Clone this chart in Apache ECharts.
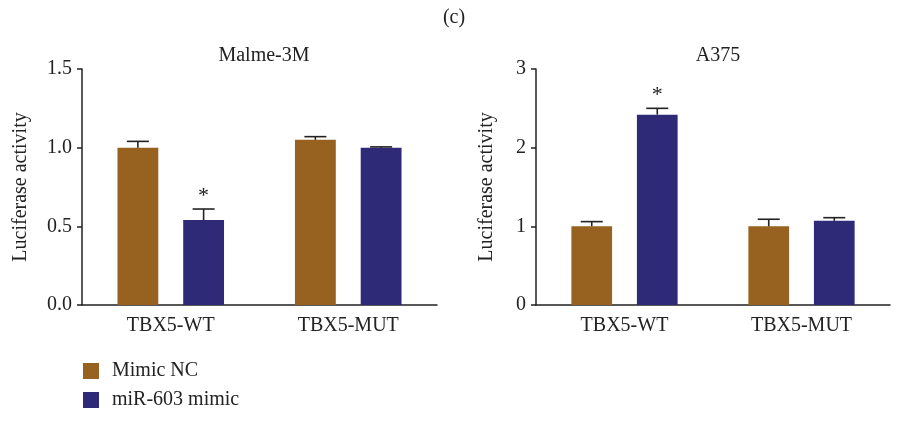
<!DOCTYPE html>
<html><head><meta charset="utf-8">
<script src="https://cdn.jsdelivr.net/npm/echarts@6/dist/echarts.min.js"></script>
<style>html,body{margin:0;padding:0;background:#fff}#c{width:897px;height:428px}</style>
</head><body><div id="c"></div>
<script>
const categories = ['TBX5-WT', 'TBX5-MUT'];
const seriesNames = ['Mimic NC', 'miR-603 mimic'];
const malmeNC = [1.0, 1.05];
const malmeNCErr = [0.04, 0.02];
const malmeMiR = [0.54, 1.0];
const malmeMiRErr = [0.07, 0.005];
const malmeSig = [false, true, false, false]; // NC-WT, miR-WT, NC-MUT, miR-MUT
const a375NC = [1.0, 1.0];
const a375NCErr = [0.06, 0.09];
const a375MiR = [2.42, 1.07];
const a375MiRErr = [0.08, 0.04];
const a375Sig = [false, true, false, false];
const malmeTicks = [0, 1.5, 0.5];
const a375Ticks = [0, 3, 1];

const FONT = '"Liberation Serif", "DejaVu Serif", serif';
const FS = 20;
const C1 = '#97621F', C2 = '#2E2A77';
const BW = 0.23, GAP = 0.61;

function errData(nc, ncErr, mi, miErr, sig) {
  const d = [];
  for (let i = 0; i < nc.length; i++) {
    d.push([i, nc[i], ncErr[i], 0, sig[i * 2] ? 1 : 0]);
    d.push([i, mi[i], miErr[i], 1, sig[i * 2 + 1] ? 1 : 0]);
  }
  return d;
}
function renderErr(params, api) {
  const band = api.size([1, 0])[0];
  const bw = band * BW, gap = bw * GAP;
  const off = (bw + gap) / 2 * (api.value(3) === 0 ? -1 : 1);
  const base = api.coord([api.value(0), api.value(1)]);
  const top = api.coord([api.value(0), api.value(1) + api.value(2)]);
  const x = base[0] + off;
  const cap = 11;
  const children = [
    {type: 'line', shape: {x1: x, y1: base[1], x2: x, y2: top[1]}, style: {stroke: '#222', lineWidth: 1.6}},
    {type: 'line', shape: {x1: x - cap, y1: top[1], x2: x + cap, y2: top[1]}, style: {stroke: '#222', lineWidth: 1.6}}
  ];
  if (api.value(4)) {
    children.push({type: 'text', x: x, y: top[1] - 2, style: {text: '*', fontFamily: FONT, fontSize: 22, fill: '#222', align: 'center', verticalAlign: 'bottom'}});
  }
  return {type: 'group', children: children};
}
function yAxis(idx, t, fmt, gapName) {
  return {
    type: 'value', gridIndex: idx, min: t[0], max: t[1], interval: t[2],
    name: 'Luciferase activity', nameLocation: 'middle', nameGap: gapName,
    nameTextStyle: {fontFamily: FONT, fontSize: FS, color: '#222'},
    axisLine: {show: true, lineStyle: {color: '#222', width: 1.5}},
    axisTick: {show: true, length: 5, lineStyle: {color: '#222', width: 1.5}},
    axisLabel: {fontFamily: FONT, fontSize: FS, color: '#222', margin: 10, formatter: fmt},
    splitLine: {show: false}
  };
}
function xAxis(idx) {
  return {
    type: 'category', gridIndex: idx, data: categories,
    axisLine: {lineStyle: {color: '#222', width: 1.5}},
    axisTick: {alignWithLabel: true, length: 5, lineStyle: {color: '#222', width: 1.5}},
    axisLabel: {fontFamily: FONT, fontSize: FS, color: '#222', margin: 11}
  };
}
const option = {
  animation: false,
  backgroundColor: '#fff',
  title: [
    {text: '(c)', left: 449, top: 3, textAlign: 'center', textStyle: {fontFamily: FONT, fontSize: FS, fontWeight: 'normal', color: '#222'}},
    {text: 'Malme-3M', left: 259, top: 41, textAlign: 'center', textStyle: {fontFamily: FONT, fontSize: FS, fontWeight: 'normal', color: '#222'}},
    {text: 'A375', left: 713, top: 41, textAlign: 'center', textStyle: {fontFamily: FONT, fontSize: FS, fontWeight: 'normal', color: '#222'}}
  ],
  legend: {
    orient: 'vertical', left: 83, top: 361, padding: 0, itemWidth: 16, itemHeight: 16, itemGap: 9,
    icon: 'rect', data: seriesNames,
    textStyle: {fontFamily: FONT, fontSize: FS, color: '#222', padding: [0, 0, 0, 8]}
  },
  grid: [
    {left: 82, top: 69, width: 355, height: 236},
    {left: 536, top: 69, width: 354, height: 236}
  ],
  xAxis: [xAxis(0), xAxis(1)],
  yAxis: [yAxis(0, malmeTicks, v => v.toFixed(1), 51), yAxis(1, a375Ticks, v => String(v), 39)],
  series: [
    {name: seriesNames[0], type: 'bar', xAxisIndex: 0, yAxisIndex: 0, data: malmeNC, barWidth: (BW * 100) + '%', barGap: (GAP * 100) + '%', itemStyle: {color: C1}},
    {name: seriesNames[1], type: 'bar', xAxisIndex: 0, yAxisIndex: 0, data: malmeMiR, barWidth: (BW * 100) + '%', barGap: (GAP * 100) + '%', itemStyle: {color: C2}},
    {name: seriesNames[0], type: 'bar', xAxisIndex: 1, yAxisIndex: 1, data: a375NC, barWidth: (BW * 100) + '%', barGap: (GAP * 100) + '%', itemStyle: {color: C1}},
    {name: seriesNames[1], type: 'bar', xAxisIndex: 1, yAxisIndex: 1, data: a375MiR, barWidth: (BW * 100) + '%', barGap: (GAP * 100) + '%', itemStyle: {color: C2}},
    {type: 'custom', xAxisIndex: 0, yAxisIndex: 0, renderItem: renderErr, data: errData(malmeNC, malmeNCErr, malmeMiR, malmeMiRErr, malmeSig), z: 5},
    {type: 'custom', xAxisIndex: 1, yAxisIndex: 1, renderItem: renderErr, data: errData(a375NC, a375NCErr, a375MiR, a375MiRErr, a375Sig), z: 5}
  ]
};
echarts.init(document.getElementById('c')).setOption(option);
</script></body></html>
